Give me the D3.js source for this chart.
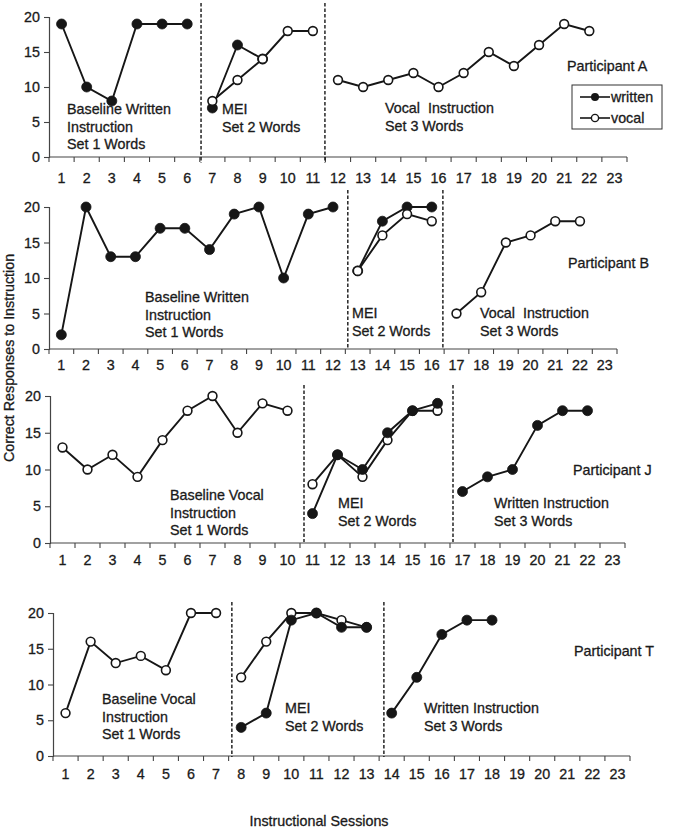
<!DOCTYPE html>
<html>
<head>
<meta charset="utf-8">
<script src="https://cdn.jsdelivr.net/npm/d3@7/dist/d3.min.js"></script>
<style>
  html, body { margin: 0; padding: 0; background: #fff; }
  svg { display: block; }
  text { font-family: "Liberation Sans", Arial, sans-serif; fill: #1a1a1a; stroke: #1a1a1a; stroke-width: 0.3px; }
</style>
</head>
<body>
<svg id="chart" width="683" height="835"></svg>
<script>
// ---------------- DATA ----------------
const sessions = d3.range(1, 24);          // x tick labels 1..23
const yTicks = [0, 5, 10, 15, 20];

// Participant A
const aBaselineWritten = [19, 10, 8, 19, 19, 19];                 // sessions 1-6
const aMeiWritten      = [7, 16, 14];                              // sessions 7-9
const aMeiVocal        = [8, 11, 14, 18, 18];                      // sessions 7-11
const aSet3Vocal       = [11, 10, 11, 12, 10, 12, 15, 13, 16, 19, 18]; // sessions 12-22
const aPhaseChanges    = [6.55, 11.48];

// Participant B
const bBaselineWritten = [2, 20, 13, 13, 17, 17, 14, 19, 20, 10, 19, 20]; // sessions 1-12
const bMeiWritten      = [11, 18, 20, 20];                         // sessions 13-16
const bMeiVocal        = [11, 16, 19, 18];                         // sessions 13-16
const bSet3Vocal       = [5, 8, 15, 16, 18, 18];                   // sessions 17-22
const bPhaseChanges    = [12.6, 16.45];

// Participant J
const jBaselineVocal   = [13, 10, 12, 9, 14, 18, 20, 15, 19, 18];  // sessions 1-10
const jMeiWritten      = [4, 12, 10, 15, 18, 19];                  // sessions 11-16
const jMeiVocal        = [8, 12, 9, 14, 18, 18];                   // sessions 11-16
const jSet3Written     = [7, 9, 10, 16, 18, 18];                   // sessions 17-22
const jPhaseChanges    = [10.66, 16.62];

// Participant T
const tBaselineVocal   = [6, 16, 13, 14, 12, 20, 20];              // sessions 1-7
const tMeiWritten      = [4, 6, 19, 20, 18, 18];                   // sessions 8-13
const tMeiVocal        = [11, 16, 20, 20, 19, 18];                 // sessions 8-13
const tSet3Written     = [6, 11, 17, 19, 19];                      // sessions 14-18
const tPhaseChanges    = [7.63, 13.69];

const legendLabels = ["written", "vocal"];
const yTitle = "Correct Responses to Instruction";
const xTitle = "Instructional Sessions";

// ---------------- LAYOUT ----------------
const toPts = (vals, start) => vals.map((v, i) => ({ s: start + i, v }));

const panels = [
  { left: 49, right: 627, y0: 157, y20: 17, tickBase: 183, dashTop: 3, dashBottom: 163,
    phases: aPhaseChanges,
    series: [
      { type: "written", pts: toPts(aBaselineWritten, 1) },
      { type: "written", pts: toPts(aMeiWritten, 7) },
      { type: "vocal",   pts: toPts(aMeiVocal, 7) },
      { type: "vocal",   pts: toPts(aSet3Vocal, 12) }
    ],
    notes: [
      { lines: ["Baseline Written", "Instruction", "Set 1 Words"], x: 67, y: 114 },
      { lines: ["MEI", "Set 2 Words"], x: 222, y: 114 },
      { lines: ["Vocal  Instruction", "Set 3 Words"], x: 385, y: 113 }
    ],
    participant: { text: "Participant A", x: 567, y: 71 },
    legend: true
  },
  { left: 49, right: 617, y0: 349, y20: 207, tickBase: 370, dashTop: 190, dashBottom: 348,
    phases: bPhaseChanges,
    series: [
      { type: "written", pts: toPts(bBaselineWritten, 1) },
      { type: "written", pts: toPts(bMeiWritten, 13) },
      { type: "vocal",   pts: toPts(bMeiVocal, 13) },
      { type: "vocal",   pts: toPts(bSet3Vocal, 17) }
    ],
    notes: [
      { lines: ["Baseline Written", "Instruction", "Set 1 Words"], x: 145, y: 302 },
      { lines: ["MEI", "Set 2 Words"], x: 352, y: 318 },
      { lines: ["Vocal  Instruction", "Set 3 Words"], x: 480, y: 318 }
    ],
    participant: { text: "Participant B", x: 568, y: 268 }
  },
  { left: 50, right: 625, y0: 543, y20: 396, tickBase: 565, dashTop: 385, dashBottom: 542,
    phases: jPhaseChanges,
    series: [
      { type: "vocal",   pts: toPts(jBaselineVocal, 1) },
      { type: "vocal",   pts: toPts(jMeiVocal, 11) },
      { type: "written", pts: toPts(jMeiWritten, 11) },
      { type: "written", pts: toPts(jSet3Written, 17) }
    ],
    notes: [
      { lines: ["Baseline Vocal", "Instruction", "Set 1 Words"], x: 170, y: 500 },
      { lines: ["MEI", "Set 2 Words"], x: 338, y: 508 },
      { lines: ["Written Instruction", "Set 3 Words"], x: 494, y: 508 }
    ],
    participant: { text: "Participant J", x: 573, y: 475 }
  },
  { left: 53, right: 630, y0: 756, y20: 613, tickBase: 779, dashTop: 602, dashBottom: 757,
    phases: tPhaseChanges,
    series: [
      { type: "vocal",   pts: toPts(tBaselineVocal, 1) },
      { type: "vocal",   pts: toPts(tMeiVocal, 8) },
      { type: "written", pts: toPts(tMeiWritten, 8) },
      { type: "written", pts: toPts(tSet3Written, 14) }
    ],
    notes: [
      { lines: ["Baseline Vocal", "Instruction", "Set 1 Words"], x: 102, y: 704 },
      { lines: ["MEI", "Set 2 Words"], x: 285, y: 713 },
      { lines: ["Written Instruction", "Set 3 Words"], x: 424, y: 713 }
    ],
    participant: { text: "Participant T", x: 574, y: 656 }
  }
];

const FONT = 14.3;
const LINE_H = 17.6;
const INK = "#161616";
const AXIS = "#444";

const svg = d3.select("#chart");

function drawMarker(g, type, cx, cy) {
  if (type === "written") {
    g.append("circle").attr("cx", cx).attr("cy", cy).attr("r", 5)
      .attr("fill", INK).attr("stroke", INK).attr("stroke-width", 0.8);
  } else {
    g.append("circle").attr("cx", cx).attr("cy", cy).attr("r", 4.4)
      .attr("fill", "#fff").attr("stroke", INK).attr("stroke-width", 1.6);
  }
}

panels.forEach(p => {
  const g = svg.append("g");
  const x = d3.scaleLinear().domain([0.5, 23.5]).range([p.left, p.right]);
  const y = d3.scaleLinear().domain([0, 20]).range([p.y0, p.y20]);

  // x axis with ticks at category boundaries, labels at centers
  const xAxis = g.append("g").attr("transform", `translate(0,${p.y0})`);
  xAxis.append("line").attr("x1", p.left).attr("x2", p.right)
    .attr("stroke", AXIS).attr("stroke-width", 1.2);
  d3.range(0, 24).forEach(k => {
    const bx = x(k + 0.5);
    xAxis.append("line").attr("x1", bx).attr("x2", bx).attr("y1", 0).attr("y2", 5)
      .attr("stroke", AXIS).attr("stroke-width", 1.1);
  });
  sessions.forEach(s => {
    g.append("text").attr("x", x(s)).attr("y", p.tickBase)
      .attr("text-anchor", "middle").attr("font-size", FONT).text(s);
  });

  // y axis
  const yAxis = d3.axisLeft(y).tickValues(yTicks).tickSize(5).tickPadding(4);
  const ya = g.append("g").attr("transform", `translate(${p.left},0)`).call(yAxis);
  ya.select(".domain").attr("stroke", AXIS).attr("stroke-width", 1.2);
  ya.selectAll(".tick line").attr("stroke", AXIS).attr("stroke-width", 1.1);
  ya.selectAll(".tick text").attr("font-size", FONT)
    .attr("font-family", '"Liberation Sans", Arial, sans-serif').attr("fill", INK);

  // phase change lines
  p.phases.forEach(ph => {
    g.append("line").attr("x1", x(ph)).attr("x2", x(ph))
      .attr("y1", p.dashTop).attr("y2", p.dashBottom)
      .attr("stroke", INK).attr("stroke-width", 1.4).attr("stroke-dasharray", "3.5,2");
  });

  // series
  const line = d3.line().x(d => x(d.s)).y(d => y(d.v));
  p.series.forEach(sr => {
    g.append("path").datum(sr.pts).attr("d", line)
      .attr("fill", "none").attr("stroke", INK).attr("stroke-width", 1.9);
  });
  p.series.forEach(sr => {
    sr.pts.forEach(d => drawMarker(g, sr.type, x(d.s), y(d.v)));
  });

  // notes
  p.notes.forEach(n => {
    const t = g.append("text").attr("font-size", FONT);
    n.lines.forEach((ln, i) => {
      t.append("tspan").attr("x", n.x).attr("y", n.y + i * LINE_H)
        .attr("xml:space", "preserve").style("white-space", "pre").text(ln);
    });
  });
  g.append("text").attr("x", p.participant.x).attr("y", p.participant.y)
    .attr("font-size", FONT).text(p.participant.text);

  if (p.legend) {
    const lg = g.append("g");
    lg.append("rect").attr("x", 572).attr("y", 85).attr("width", 90).attr("height", 44)
      .attr("fill", "#fff").attr("stroke", "#333").attr("stroke-width", 1);
    ["written", "vocal"].forEach((type, i) => {
      const cy = 97 + i * 21;
      lg.append("line").attr("x1", 580).attr("x2", 610).attr("y1", cy).attr("y2", cy)
        .attr("stroke", INK).attr("stroke-width", 1.6);
      if (type === "written") {
        lg.append("circle").attr("cx", 595).attr("cy", cy).attr("r", 4).attr("fill", INK);
      } else {
        lg.append("circle").attr("cx", 595).attr("cy", cy).attr("r", 3.6)
          .attr("fill", "#fff").attr("stroke", INK).attr("stroke-width", 1.4);
      }
      lg.append("text").attr("x", 611).attr("y", cy + 5).attr("font-size", FONT)
        .text(legendLabels[i]);
    });
  }
});

// axis titles
svg.append("text").attr("transform", "translate(14,358) rotate(-90)")
  .attr("text-anchor", "middle").attr("font-size", FONT).text(yTitle);
svg.append("text").attr("x", 319).attr("y", 826)
  .attr("text-anchor", "middle").attr("font-size", FONT).text(xTitle);
</script>
</body>
</html>
